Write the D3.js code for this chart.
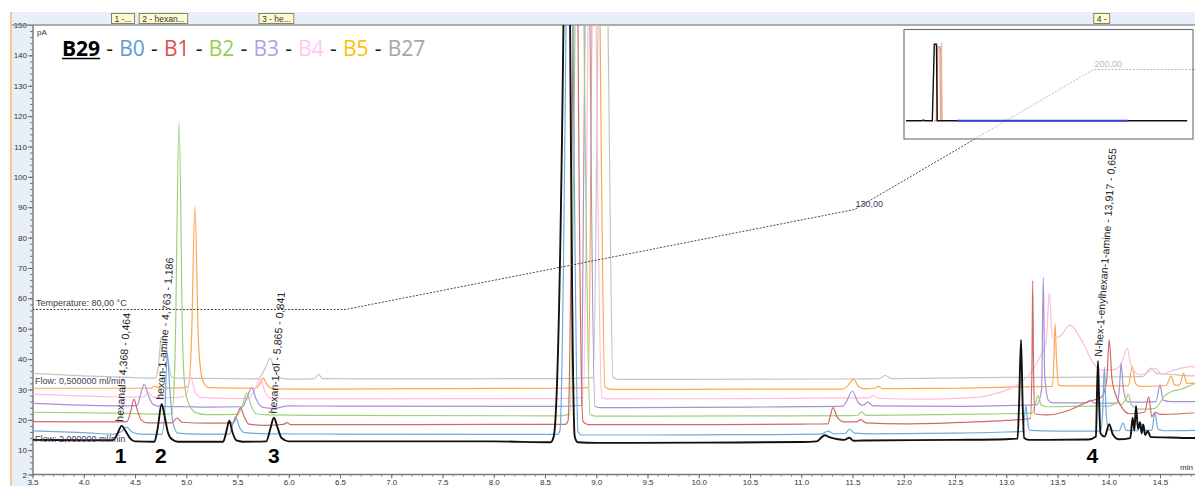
<!DOCTYPE html>
<html><head><meta charset="utf-8">
<script src="https://cdn.jsdelivr.net/npm/d3@7"></script>
<style>
html,body{margin:0;padding:0;background:#fff;overflow:hidden;}
svg{display:block;font-family:"Liberation Sans",Arial,sans-serif;}
</style></head><body>
<svg id="chart" width="1195" height="486"></svg>
<script>
// ---------------- DATA ----------------
const legendNames = ["B29","B0","B1","B2","B3","B4","B5","B27"];

const seriesB29 = [[3.50,13.4],[4.00,13.3],[4.28,13.3],[4.32,14.8],[4.37,18.0],[4.41,16.2],[4.45,14.0],[4.50,12.9],[4.69,12.8],[4.72,17.0],[4.76,25.2],[4.79,21.0],[4.82,16.0],[4.86,13.6],[4.92,12.8],[5.36,12.8],[5.39,16.0],[5.42,19.7],[5.45,16.0],[5.49,13.2],[5.55,12.8],[5.78,12.9],[5.82,17.0],[5.855,20.7],[5.89,17.5],[5.93,14.0],[6.00,12.9],[7.00,12.9],[8.00,12.9],[8.555,12.6],[8.585,14.5],[8.68,150],[8.71,400],[8.745,150],[8.79,14.5],[8.82,12.6],[9.00,12.4],[10.00,12.5],[11.00,12.7],[11.15,12.9],[11.20,14.3],[11.23,14.9],[11.28,14.2],[11.36,13.6],[11.42,13.4],[11.47,14.1],[11.51,13.1],[11.60,13.2],[12.50,13.4],[13.00,13.6],[13.11,13.8],[13.125,25],[13.144,46.3],[13.16,25],[13.175,14.0],[13.22,13.4],[13.80,13.5],[13.875,14.5],[13.883,25],[13.895,39.4],[13.907,25],[13.92,15.5],[13.96,14.5],[14.005,18.6],[14.04,15.2],[14.10,13.6],[14.21,14.0],[14.233,20.7],[14.25,16.5],[14.266,24.6],[14.285,17.0],[14.305,19.2],[14.322,15.5],[14.337,18.5],[14.355,15.0],[14.38,16.3],[14.41,14.3],[14.60,14.2],[14.80,14.0],[15.00,14.0]];

const seriesB0 = [[3.50,16.4],[4.00,15.8],[4.30,15.3],[4.36,16.0],[4.42,17.6],[4.47,16.0],[4.55,15.3],[4.76,15.2],[4.79,22],[4.815,42],[4.84,30],[4.87,19],[4.92,15.6],[5.10,15.3],[5.42,15.3],[5.45,18.0],[5.48,21.0],[5.52,17.5],[5.57,15.8],[5.80,15.4],[6.50,15.3],[8.00,15.2],[8.62,15.2],[8.646,16.5],[8.705,150],[8.74,300],[8.773,150],[8.822,16.0],[8.86,15.0],[9.50,15.0],[10.50,15.1],[11.20,15.3],[11.26,16.3],[11.32,15.4],[11.43,15.5],[11.47,16.9],[11.52,15.6],[11.70,15.4],[12.50,15.6],[13.00,16.0],[13.16,16.2],[13.175,20],[13.193,24.6],[13.21,19],[13.23,16.5],[13.50,16.3],[13.92,16.3],[13.94,22],[13.957,37.3],[13.975,22],[14.00,16.8],[14.10,16.4],[14.14,18.9],[14.17,16.5],[14.28,16.4],[14.32,18.5],[14.35,16.5],[14.42,16.5],[14.45,22.4],[14.48,17.0],[14.55,16.4],[15.00,16.6]];

const seriesB1 = [[3.50,19.4],[4.20,19.3],[4.42,19.4],[4.46,23.0],[4.49,26.8],[4.52,23.5],[4.56,20.0],[4.62,19.0],[4.86,19.0],[4.91,20.6],[4.96,19.2],[5.20,18.9],[5.46,19.0],[5.50,22.0],[5.53,24.0],[5.56,21.5],[5.61,18.6],[5.75,18.2],[5.95,18.5],[5.98,19.1],[6.02,18.4],[6.50,18.4],[8.00,18.5],[8.70,18.5],[8.724,19.5],[8.773,150],[8.80,300],[8.822,150],[8.871,19.5],[8.92,18.4],[10.00,18.4],[11.00,18.6],[11.26,18.7],[11.285,21.5],[11.31,24.0],[11.35,21.0],[11.42,19.3],[11.54,19.3],[11.58,20.1],[11.63,19.0],[12.00,18.7],[12.60,19.2],[13.00,19.8],[13.235,20.5],[13.25,35],[13.258,65.8],[13.267,35],[13.28,22.0],[13.40,21.6],[13.60,23.0],[13.80,26.0],[13.93,27.5],[13.98,33],[14.005,46.3],[14.03,34],[14.07,28],[14.12,24.5],[14.20,22.0],[14.35,22.5],[14.39,27.6],[14.42,21.0],[14.45,22.5],[14.50,21.8],[14.70,22.0],[15.00,22.8]];

const seriesB2 = [[3.50,22.5],[4.30,22.2],[4.80,21.9],[4.86,22.0],[4.89,40],[4.93,118],[4.965,45],[4.99,30],[5.03,25],[5.10,22.3],[5.20,21.7],[5.50,21.8],[5.55,25],[5.59,28.8],[5.63,25],[5.68,22.0],[5.80,21.6],[6.20,21.5],[8.60,21.3],[8.744,21.8],[8.793,150],[8.84,300],[8.88,150],[8.939,21.8],[8.99,21.2],[10.50,21.3],[11.50,21.4],[11.55,21.5],[11.59,22.6],[11.63,21.5],[12.50,21.8],[13.00,22.0],[13.25,22.2],[13.29,26],[13.31,28.0],[13.34,25],[13.40,24.3],[13.80,24.5],[14.00,24.5],[14.07,25.5],[14.09,25.8],[14.12,25.0],[14.17,27.0],[14.19,28.5],[14.22,25.0],[14.30,23.5],[14.45,23.8],[14.55,28.0],[14.62,29.4],[14.70,30.0],[14.85,32.0],[15.00,32.5]];

const seriesB3 = [[3.50,25.4],[4.30,24.6],[4.52,24.7],[4.56,29],[4.59,31.8],[4.63,28],[4.68,25.0],[4.75,24.4],[5.00,24.3],[5.20,24.2],[5.55,24.3],[5.60,28],[5.64,30.6],[5.68,27],[5.74,24.2],[5.85,23.8],[6.00,24.6],[6.50,24.5],[8.60,24.4],[8.858,24.8],[8.89,150],[8.91,300],[8.939,150],[8.988,24.4],[9.05,24.0],[10.50,24.2],[11.40,24.4],[11.44,26],[11.50,29.5],[11.55,26],[11.60,24.8],[11.65,25.8],[11.70,24.6],[12.50,24.4],[13.00,24.7],[13.30,25.0],[13.345,30],[13.361,66.9],[13.375,35],[13.41,26.5],[13.45,25.6],[13.78,25.6],[13.82,26.5],[13.86,25.5],[14.08,25.5],[14.105,31],[14.12,38.6],[14.14,31],[14.18,26.0],[14.30,25.8],[14.46,26.0],[14.50,31.5],[14.53,26.5],[14.60,26.0],[15.00,26.0]];

const seriesB4 = [[3.50,28.5],[4.30,27.6],[4.58,27.5],[4.63,29.0],[4.68,27.5],[4.90,27.3],[5.00,28.0],[5.04,34.2],[5.09,29.0],[5.15,27.3],[5.60,27.0],[5.67,30],[5.72,33.3],[5.77,29],[5.83,27.0],[6.20,26.9],[8.60,27.0],[8.874,27.3],[8.92,150],[8.96,300],[8.998,150],[9.053,27.4],[9.10,26.9],[10.50,27.0],[11.50,27.2],[11.66,27.2],[11.70,28.0],[11.75,27.1],[12.20,26.8],[12.60,27.2],[12.80,27.8],[12.90,28.7],[13.13,32.0],[13.25,36.0],[13.33,40.8],[13.39,46.0],[13.42,61.7],[13.45,47.0],[13.52,47.4],[13.62,51.2],[13.75,45.2],[13.85,38.6],[13.92,36.4],[14.05,36.5],[14.13,39.0],[14.18,43.6],[14.22,37.5],[14.31,34.8],[14.38,35.5],[14.45,37.0],[14.52,35.0],[14.60,36.0],[14.68,36.8],[14.80,37.5],[15.00,37.0]];

const seriesB5 = [[3.50,30.4],[4.30,30.4],[4.65,30.4],[4.695,31.1],[4.74,30.4],[4.95,30.5],[5.02,31.0],[5.05,45],[5.085,90.2],[5.12,45],[5.16,33.0],[5.22,30.6],[5.68,30.4],[5.72,32.0],[5.75,33.8],[5.79,31.5],[5.85,30.2],[6.20,30.1],[8.60,30.4],[8.922,30.6],[8.958,150],[9.00,300],[9.037,150],[9.085,30.8],[9.15,30.0],[10.50,30.1],[11.40,30.1],[11.46,31.5],[11.51,33.4],[11.56,31.0],[11.62,30.2],[11.72,30.4],[11.75,31.1],[11.79,30.3],[12.50,30.4],[13.00,30.8],[13.45,31.0],[13.465,40],[13.476,51.6],[13.49,40],[13.51,31.5],[13.55,31.2],[14.19,31.2],[14.23,37.5],[14.26,32.0],[14.30,31.0],[14.56,31.3],[14.61,34.5],[14.64,31.5],[14.69,31.4],[14.73,35.4],[14.76,32.0],[15.00,32.0]];

const seriesB27 = [[3.50,35.3],[4.00,34.5],[4.50,33.9],[4.70,33.7],[4.73,38],[4.755,47.0],[4.79,47.4],[4.82,40],[4.86,34.0],[4.90,33.7],[5.70,33.5],[5.77,37.0],[5.82,40.3],[5.86,36.5],[5.92,33.8],[6.00,33.4],[6.25,33.5],[6.29,35.0],[6.33,33.6],[7.00,33.5],[8.60,33.6],[8.971,33.9],[9.017,150],[9.06,300],[9.115,150],[9.163,34.0],[9.22,33.3],[10.50,33.4],[11.75,33.5],[11.82,34.6],[11.88,33.6],[12.50,33.8],[13.00,34.0],[13.50,34.0],[14.00,34.1],[14.33,34.2],[14.41,37.0],[14.47,35.3],[14.60,35.0],[14.80,34.5],[15.00,34.6]];

const yTickValues = [2,10,20,30,40,50,60,70,80,90,100,110,120,130,140,150];
const xTickValues = [3.5,4.0,4.5,5.0,5.5,6.0,6.5,7.0,7.5,8.0,8.5,9.0,9.5,10.0,10.5,11.0,11.5,12.0,12.5,13.0,13.5,14.0,14.5];

const peakNumbers = ["1","2","3","4"];
const peakNames = ["hexanal","hexan-1-amine","hexan-1-ol","N-hex-1-enylhexan-1-amine"];
const peakRT = [4.368,4.763,5.865,13.917];
const peakAmount = ["0,464","1,186","0,841","0,655"];
const peakHeights = [18.0,25.2,20.7,39.4];
const peakBoxTexts = ["1 -...","2 - hexan...","3 - he...","4 -"];

const tempTimes = [3.5,6.55,11.52,13.85,15.2];
const tempValues = [80,80,130,200,200];
const flowTexts = ["Flow: 0,500000 ml/min","Flow: 2,000000 ml/min"];

const insetBlack = [[0,0],[1.70,0],[1.83,0.8],[1.95,0],[2.78,0],[2.99,96],[3.22,96],[3.30,0],[29.7,0]];
const insetOrange = [[3.0,0],[3.27,0],[3.36,91],[3.68,91],[3.80,0]];
const insetPink = [[3.0,0],[3.20,0],[3.30,93],[3.58,93],[3.66,0]];
const insetGray = [[3.70,0],[3.76,98],[3.82,0]];
const insetRange = [5.39,23.45];

// ---------------- STYLE ----------------
const traceStyle = {
  B29:{color:"#111111", width:1.9},
  B0:{color:"#72a9dd", width:1.2},
  B1:{color:"#cf6a66", width:1.2},
  B2:{color:"#9fd07a", width:1.2},
  B3:{color:"#a593d6", width:1.2},
  B4:{color:"#ffbcdc", width:1.2},
  B5:{color:"#ffa652", width:1.2},
  B27:{color:"#c4c4c4", width:1.2}
};
const legendStyle = {B29:"#000000",B0:"#5b9bd5",B1:"#dc5050",B2:"#92d050",B3:"#b4a0e2",B4:"#ffc8f0",B5:"#ffc000",B27:"#a6a6a6"};
const seriesData = {B29:seriesB29,B0:seriesB0,B1:seriesB1,B2:seriesB2,B3:seriesB3,B4:seriesB4,B5:seriesB5,B27:seriesB27};

// ---------------- CHART ----------------
const W = 1195, H = 486;
const PL = 33, PT = 25, PB = 474.5;
const svg = d3.select("#chart");
const x = d3.scaleLinear().domain([3.5,15]).range([32.5,1211.25]);
const y = d3.scaleLinear().domain([2,150]).range([474.5,25]);
const yT = d3.scaleLinear().domain([80,200]).range([309.5,69.5]);

svg.append("rect").attr("width",W).attr("height",H).attr("fill","#ffffff");
svg.append("rect").attr("x",12).attr("y",12).attr("width",W-12).attr("height",13).attr("fill","#e8eff9");
svg.append("rect").attr("x",12).attr("y",12).attr("width",PL-12).attr("height",H-12).attr("fill","#e8eff9");
svg.append("line").attr("x1",11).attr("x2",11).attr("y1",12).attr("y2",H).attr("stroke","#f7c98f").attr("stroke-width",2);

svg.append("defs").append("clipPath").attr("id","plotclip")
  .append("rect").attr("x",PL).attr("y",PT).attr("width",W-PL).attr("height",PB-PT);

// axes
const yAxisMinor = d3.axisLeft(y).tickValues(d3.range(2,151,2)).tickSize(3).tickFormat("");
const yAxis = d3.axisLeft(y).tickValues(yTickValues).tickSize(5).tickFormat(d3.format("d"));
const gyMinor = svg.append("g").attr("transform",`translate(${PL},0)`).call(yAxisMinor);
const gy = svg.append("g").attr("transform",`translate(${PL},0)`).call(yAxis);
const xAxisMinor = d3.axisBottom(x).tickValues(d3.range(35,151,1).map(d=>d/10)).tickSize(2).tickFormat("");
const xAxis = d3.axisBottom(x).tickValues(xTickValues).tickSize(4).tickFormat(d3.format(".1f"));
const gxMinor = svg.append("g").attr("transform",`translate(0,${PB})`).call(xAxisMinor);
const gx = svg.append("g").attr("transform",`translate(0,${PB})`).call(xAxis);
[gy,gyMinor,gx,gxMinor].forEach(g=>{
  g.select(".domain").remove();
  g.selectAll(".tick line").attr("stroke","#555").attr("stroke-width",0.8);
  g.selectAll(".tick text").attr("font-size",8).attr("fill","#333").attr("font-family","Liberation Sans, Arial, sans-serif");
});
gy.selectAll(".tick text").attr("x",-6);
gx.selectAll(".tick text").attr("y",4.5);

// axis lines / frame
svg.append("line").attr("x1",12).attr("x2",W).attr("y1",PT).attr("y2",PT).attr("stroke","#8c949e").attr("stroke-width",1.3);
svg.append("line").attr("x1",PL).attr("x2",PL).attr("y1",PT).attr("y2",PB).attr("stroke","#7d7d7d").attr("stroke-width",1.5);
svg.append("line").attr("x1",PL).attr("x2",W).attr("y1",PB).attr("y2",PB).attr("stroke","#7d7d7d").attr("stroke-width",1.5);

svg.append("text").attr("x",37).attr("y",35).attr("font-size",8).attr("fill","#333").text("pA");
svg.append("text").attr("x",1180).attr("y",470).attr("font-size",8).attr("fill","#333").text("min");

// traces
const plot = svg.append("g").attr("clip-path","url(#plotclip)");
const line = d3.line().x(d=>x(d[0])).y(d=>y(d[1])).curve(d3.curveMonotoneX);
const drawOrder = ["B27","B5","B4","B3","B2","B1","B0","B29"];
drawOrder.forEach(k=>{
  plot.append("path").datum(seriesData[k])
    .attr("d",line).attr("fill","none")
    .attr("stroke",traceStyle[k].color).attr("stroke-width",traceStyle[k].width)
    .attr("stroke-linejoin","round");
});

// temperature program
const tempPts = tempTimes.map((t,i)=>[t,tempValues[i]]);
plot.append("path").datum(tempPts)
  .attr("d",d3.line().x(d=>x(d[0])).y(d=>yT(d[1])))
  .attr("fill","none").attr("stroke","#4a4a4a").attr("stroke-width",1).attr("stroke-dasharray","2,1.5");
const fmt2 = v=>d3.format(".2f")(v).replace(".",",");
svg.append("text").attr("x",36).attr("y",306).attr("font-size",9).attr("fill","#3e3848")
  .text("Temperature: "+fmt2(tempValues[0])+" °C");
[2,3].forEach(i=>{
  svg.append("text").attr("x",x(tempTimes[i])+1).attr("y",yT(tempValues[i])-3)
    .attr("font-size",9).attr("fill","#4a3b55").text(fmt2(tempValues[i]));
});
svg.append("text").attr("x",35).attr("y",383.5).attr("font-size",9).attr("fill","#4a3b55").text(flowTexts[0]);
svg.append("text").attr("x",35).attr("y",442).attr("font-size",9).attr("fill","#4a3b55").text(flowTexts[1]);

// peak annotations
const fmt3 = v=>d3.format(".3f")(v).replace(".",",");
peakRT.forEach((rt,i)=>{
  svg.append("text")
    .attr("transform",`translate(${x(rt)+1.5},${y(peakHeights[i])-4}) rotate(-86)`)
    .attr("font-size",10.6).attr("fill","#222")
    .text(`${peakNames[i]} - ${fmt3(rt)} - ${peakAmount[i]}`);
  svg.append("text").attr("x",x(rt)+(i===3?-8:-1)).attr("y",463)
    .attr("text-anchor","middle").attr("font-size",21).attr("font-weight","bold").attr("fill","#000")
    .text(peakNumbers[i]);
  // header boxes
  const cx = x(rt)+1.5;
  const box = svg.append("rect").attr("y",13.5).attr("height",10)
    .attr("fill","#fdfbcf").attr("stroke","#7d7a5a").attr("stroke-width",0.9);
  const bt = svg.append("text").attr("font-size",8.5).attr("fill","#333").text(peakBoxTexts[i]);
  const w = bt.node().getComputedTextLength()+6;
  box.attr("x",cx-w/2).attr("width",w);
  bt.attr("x",cx-w/2+3).attr("y",21.5);
});

// legend
let lx = 62;
const ly = 55.5;
const legendFont = "'Open Sans', 'Liberation Sans', sans-serif";
legendNames.forEach((n,i)=>{
  if(i>0){
    const sp = 6.2;
    lx += sp;
    const h = svg.append("text").attr("x",lx).attr("y",ly).attr("font-size",21)
      .attr("font-family",legendFont).attr("fill","#222").text("-");
    lx += h.node().getComputedTextLength() + sp;
  }
  const t = svg.append("text").attr("x",lx).attr("y",ly).attr("font-size",21)
    .attr("font-family",legendFont).attr("fill",legendStyle[n])
    .attr("font-weight", i===0?"bold":"normal").text(n);
  const tw = t.node().getComputedTextLength();
  if(i===0){
    svg.append("line").attr("x1",lx).attr("x2",lx+tw).attr("y1",ly+3).attr("y2",ly+3)
      .attr("stroke","#000").attr("stroke-width",1.6);
  }
  lx += tw;
});

// inset overview
const ix = d3.scaleLinear().domain([0,30]).range([906,1190]);
const iy = d3.scaleLinear().domain([0,100]).range([120.7,41]);
svg.append("rect").attr("x",904).attr("y",29.5).attr("width",289).attr("height",109.5)
  .attr("fill","#ffffff").attr("fill-opacity",0.62).attr("stroke","#6e6e6e").attr("stroke-width",1.1);
const iline = d3.line().x(d=>ix(d[0])).y(d=>iy(d[1]));
svg.append("path").datum(insetGray).attr("d",iline).attr("fill","none").attr("stroke","#c4c4c4").attr("stroke-width",1);
svg.append("path").datum(insetOrange).attr("d",iline).attr("fill","none").attr("stroke","#f5b28a").attr("stroke-width",1.4);
svg.append("path").datum(insetPink).attr("d",iline).attr("fill","none").attr("stroke","#e79a96").attr("stroke-width",1.2);
svg.append("path").datum(insetBlack).attr("d",iline).attr("fill","none").attr("stroke","#111").attr("stroke-width",1.4);
svg.append("line").attr("x1",ix(insetRange[0])).attr("x2",ix(insetRange[1])).attr("y1",iy(0)).attr("y2",iy(0))
  .attr("stroke","#3b3be0").attr("stroke-width",1.8);
</script>
</body></html>
